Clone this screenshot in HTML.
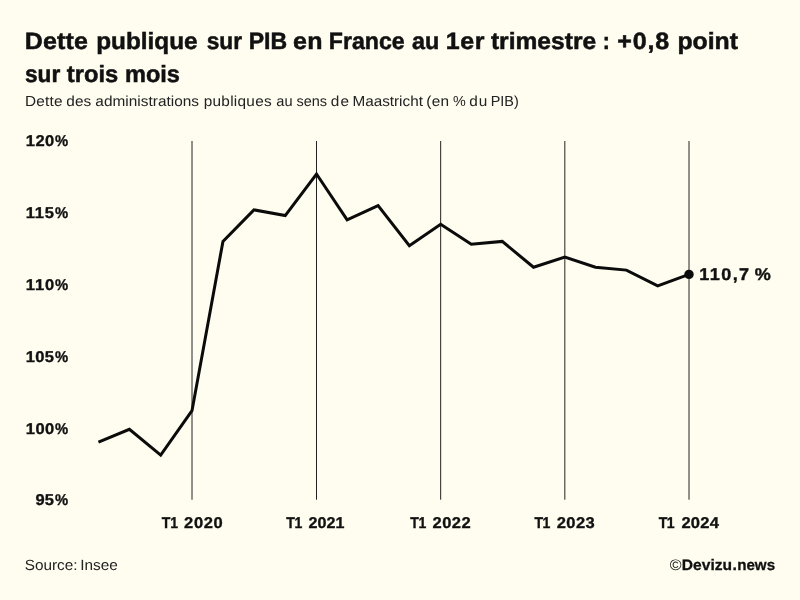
<!DOCTYPE html>
<html lang="fr">
<head>
<meta charset="utf-8">
<title>Dette publique sur PIB en France</title>
<style>
html,body{margin:0;padding:0;background:#fffdf0;}
body{width:800px;height:600px;overflow:hidden;}
svg{display:block;font-family:"Liberation Sans",sans-serif;fill:#111111;will-change:transform;}
.txt text{text-rendering:geometricPrecision;}
.grid line{stroke:#222;stroke-width:1;}
</style>
</head>
<body>
<svg width="800" height="600" viewBox="0 0 800 600">
<rect x="0" y="0" width="800" height="600" fill="#fffdf0"/>
<g class="grid">
<line x1="192.00" y1="141.0" x2="192.00" y2="499.7"/>
<line x1="316.51" y1="141.0" x2="316.51" y2="499.7"/>
<line x1="440.67" y1="141.0" x2="440.67" y2="499.7"/>
<line x1="564.84" y1="141.0" x2="564.84" y2="499.7"/>
<line x1="689.00" y1="141.0" x2="689.00" y2="499.7"/>
</g>
<polyline points="98.45,442.22 129.41,429.31 160.70,455.13 192.00,410.67 222.96,241.41 253.91,209.85 285.21,215.59 316.51,173.99 347.12,219.89 378.08,205.55 409.37,245.71 440.67,224.20 471.29,244.28 502.24,241.41 533.54,267.23 564.84,257.19 595.45,267.23 626.41,270.10 657.70,285.87 689.00,274.40" fill="none" stroke="#0b0b0b" stroke-width="3" stroke-linejoin="miter" stroke-linecap="butt"/>
<circle cx="689.00" cy="274.40" r="4.7" fill="#0b0b0b"/>
<g class="txt">
<text transform="translate(24.79 48.75) scale(1.0600 1)" font-size="23.6" font-weight="700" stroke="#111111" stroke-width="0.5" letter-spacing="0.165">Dette</text>
<text transform="translate(96.21 48.75) scale(1.0311 1)" font-size="23.6" font-weight="700" stroke="#111111" stroke-width="0.5">publique</text>
<text transform="translate(206.72 48.75) scale(0.9633 1)" font-size="23.6" font-weight="700" stroke="#111111" stroke-width="0.5">sur</text>
<text transform="translate(248.66 48.75) scale(0.9764 1)" font-size="23.6" font-weight="700" stroke="#111111" stroke-width="0.5">PIB</text>
<text transform="translate(293.09 48.75) scale(1.0600 1)" font-size="23.6" font-weight="700" stroke="#111111" stroke-width="0.5" letter-spacing="0.241">en</text>
<text transform="translate(328.85 48.75) scale(0.9801 1)" font-size="23.6" font-weight="700" stroke="#111111" stroke-width="0.5">France</text>
<text transform="translate(412.00 48.75) scale(0.9903 1)" font-size="23.6" font-weight="700" stroke="#111111" stroke-width="0.5">au</text>
<text transform="translate(445.68 48.75) scale(1.0600 1)" font-size="23.6" font-weight="700" stroke="#111111" stroke-width="0.5" letter-spacing="0.626">1er</text>
<text transform="translate(490.90 48.75) scale(1.0421 1)" font-size="23.6" font-weight="700" stroke="#111111" stroke-width="0.5">trimestre</text>
<text transform="translate(602.69 48.75) scale(0.9032 1)" font-size="23.6" font-weight="700" stroke="#111111" stroke-width="0.5">:</text>
<text transform="translate(617.21 48.75) scale(1.0600 1)" font-size="23.6" font-weight="700" stroke="#111111" stroke-width="0.5" letter-spacing="0.834">+0,8</text>
<text transform="translate(677.44 48.75) scale(1.0510 1)" font-size="23.6" font-weight="700" stroke="#111111" stroke-width="0.5">point</text>
<text transform="translate(25.02 81.50) scale(0.9606 1)" font-size="23.6" font-weight="700" stroke="#111111" stroke-width="0.5">sur</text>
<text transform="translate(66.80 81.50) scale(1.0045 1)" font-size="23.6" font-weight="700" stroke="#111111" stroke-width="0.5">trois</text>
<text transform="translate(125.00 81.50) scale(0.9976 1)" font-size="23.6" font-weight="700" stroke="#111111" stroke-width="0.5">mois</text>
<text transform="translate(24.93 106.30) scale(1.0600 1)" font-size="14.5" font-weight="400" fill="#222" letter-spacing="0.197">Dette</text>
<text transform="translate(66.34 106.30) scale(1.0600 1)" font-size="14.5" font-weight="400" fill="#222" letter-spacing="0.007">des</text>
<text transform="translate(95.34 106.30) scale(1.0600 1)" font-size="14.5" font-weight="400" fill="#222" letter-spacing="0.023">administrations</text>
<text transform="translate(203.69 106.30) scale(1.0600 1)" font-size="14.5" font-weight="400" fill="#222" letter-spacing="0.258">publiques</text>
<text transform="translate(276.27 106.30) scale(1.0069 1)" font-size="14.5" font-weight="400" fill="#222">au</text>
<text transform="translate(296.40 106.30) scale(0.9992 1)" font-size="14.5" font-weight="400" fill="#222">sens</text>
<text transform="translate(330.84 106.30) scale(1.0600 1)" font-size="14.5" font-weight="400" fill="#222" letter-spacing="1.163">de</text>
<text transform="translate(352.43 106.30) scale(1.0534 1)" font-size="14.5" font-weight="400" fill="#222">Maastricht</text>
<text transform="translate(426.32 106.30) scale(1.0600 1)" font-size="14.5" font-weight="400" fill="#222" letter-spacing="0.272">(en</text>
<text transform="translate(453.01 106.30) scale(0.9895 1)" font-size="14.5" font-weight="400" fill="#222">%</text>
<text transform="translate(469.34 106.30) scale(1.0600 1)" font-size="14.5" font-weight="400" fill="#222" letter-spacing="0.830">du</text>
<text transform="translate(490.66 106.30) scale(0.9942 1)" font-size="14.5" font-weight="400" fill="#222">PIB)</text>
<text transform="translate(25.70 146.00) scale(1.0600 1)" font-size="15.6" font-weight="700" stroke="#111111" stroke-width="0.35" letter-spacing="0.455">120</text>
<text transform="translate(55.06 146.00) scale(0.9495 1)" font-size="15.6" font-weight="700" stroke="#111111" stroke-width="0.35">%</text>
<text transform="translate(25.70 217.70) scale(1.0600 1)" font-size="15.6" font-weight="700" stroke="#111111" stroke-width="0.35" letter-spacing="0.768">115</text>
<text transform="translate(55.06 217.70) scale(0.9495 1)" font-size="15.6" font-weight="700" stroke="#111111" stroke-width="0.35">%</text>
<text transform="translate(25.70 289.70) scale(1.0600 1)" font-size="15.6" font-weight="700" stroke="#111111" stroke-width="0.35" letter-spacing="0.893">110</text>
<text transform="translate(55.06 289.70) scale(0.9495 1)" font-size="15.6" font-weight="700" stroke="#111111" stroke-width="0.35">%</text>
<text transform="translate(25.70 361.80) scale(1.0600 1)" font-size="15.6" font-weight="700" stroke="#111111" stroke-width="0.35" letter-spacing="0.330">105</text>
<text transform="translate(55.06 361.80) scale(0.9495 1)" font-size="15.6" font-weight="700" stroke="#111111" stroke-width="0.35">%</text>
<text transform="translate(25.70 433.90) scale(1.0600 1)" font-size="15.6" font-weight="700" stroke="#111111" stroke-width="0.35" letter-spacing="0.455">100</text>
<text transform="translate(55.06 433.90) scale(0.9495 1)" font-size="15.6" font-weight="700" stroke="#111111" stroke-width="0.35">%</text>
<text transform="translate(35.60 505.00) scale(1.0567 1)" font-size="15.6" font-weight="700" stroke="#111111" stroke-width="0.35">95</text>
<text transform="translate(55.06 505.00) scale(0.9495 1)" font-size="15.6" font-weight="700" stroke="#111111" stroke-width="0.35">%</text>
<text transform="translate(161.80 528.00) scale(0.9000 1)" font-size="15.6" font-weight="700" stroke="#111111" stroke-width="0.35" letter-spacing="-0.222">T1</text>
<text transform="translate(184.10 528.00) scale(1.0600 1)" font-size="15.6" font-weight="700" stroke="#111111" stroke-width="0.35" letter-spacing="0.564">2020</text>
<text transform="translate(286.20 528.00) scale(0.9000 1)" font-size="15.6" font-weight="700" stroke="#111111" stroke-width="0.35" letter-spacing="-0.222">T1</text>
<text transform="translate(308.61 528.00) scale(1.0315 1)" font-size="15.6" font-weight="700" stroke="#111111" stroke-width="0.35">2021</text>
<text transform="translate(410.20 528.00) scale(0.9000 1)" font-size="15.6" font-weight="700" stroke="#111111" stroke-width="0.35" letter-spacing="-0.222">T1</text>
<text transform="translate(432.60 528.00) scale(1.0600 1)" font-size="15.6" font-weight="700" stroke="#111111" stroke-width="0.35" letter-spacing="0.406">2022</text>
<text transform="translate(534.50 528.00) scale(0.9000 1)" font-size="15.6" font-weight="700" stroke="#111111" stroke-width="0.35" letter-spacing="-0.556">T1</text>
<text transform="translate(556.80 528.00) scale(1.0600 1)" font-size="15.6" font-weight="700" stroke="#111111" stroke-width="0.35" letter-spacing="0.344">2023</text>
<text transform="translate(658.80 528.00) scale(0.9000 1)" font-size="15.6" font-weight="700" stroke="#111111" stroke-width="0.35" letter-spacing="-0.556">T1</text>
<text transform="translate(681.40 528.00) scale(1.0600 1)" font-size="15.6" font-weight="700" stroke="#111111" stroke-width="0.35" letter-spacing="0.240">2024</text>
<text transform="translate(699.27 280.40) scale(1.0600 1)" font-size="17.0" font-weight="700" stroke="#111111" stroke-width="0.4" letter-spacing="1.360">110,7</text>
<text transform="translate(754.74 280.40) scale(1.0598 1)" font-size="17.0" font-weight="700" stroke="#111111" stroke-width="0.4">%</text>
<text transform="translate(24.72 570.00) scale(1.0353 1)" font-size="14.8" font-weight="400" fill="#222">Source:</text>
<text transform="translate(80.17 570.00) scale(1.0374 1)" font-size="14.8" font-weight="400" fill="#222">Insee</text>
<text transform="translate(669.84 569.80) scale(1.0512 1)" font-size="15.2" font-weight="400">©</text>
<text transform="translate(681.80 569.80) scale(1.0265 1)" font-size="15.2" font-weight="700" stroke="#111111" stroke-width="0.3">Devizu</text>
<text transform="translate(732.49 569.80) scale(1.0400 1)" font-size="15.2" font-weight="700" stroke="#111111" stroke-width="0.3">.</text>
<text transform="translate(737.13 569.80) scale(0.9993 1)" font-size="15.2" font-weight="700" stroke="#111111" stroke-width="0.3">news</text>
</g>
</svg>
</body>
</html>
